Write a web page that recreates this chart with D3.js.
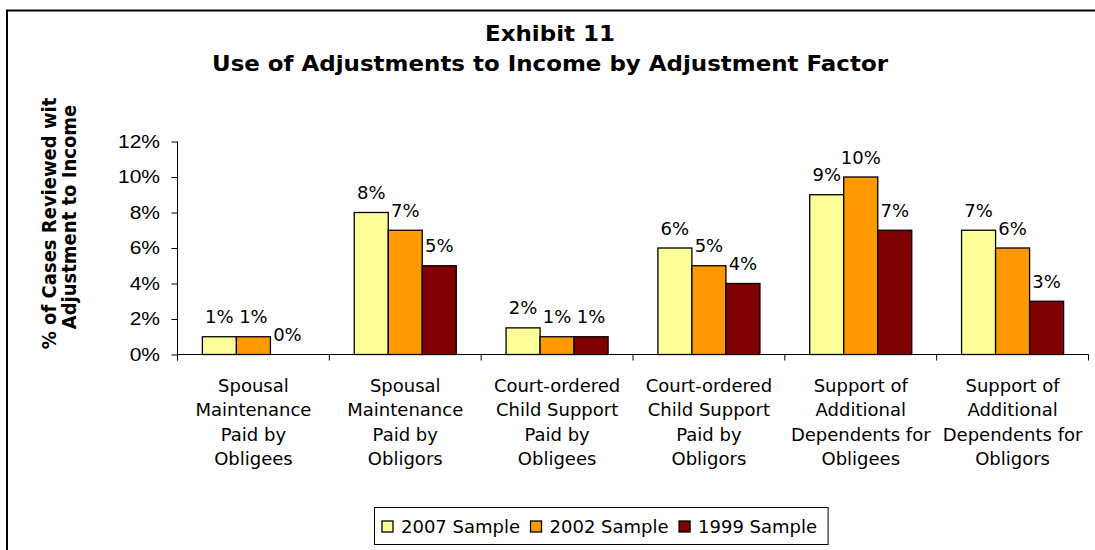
<!DOCTYPE html>
<html>
<head>
<meta charset="utf-8">
<script src="https://cdn.jsdelivr.net/npm/d3@7"></script>
<style>
  html, body { margin: 0; padding: 0; background: #fff; }
  svg { display: block; }
  text { fill: #000; }
</style>
</head>
<body>
<svg id="chart" width="1095" height="550"></svg>
<script>
// Adjustment factors (each label split into its wrapped lines)
const categories = [
  ["Spousal", "Maintenance", "Paid by", "Obligees"],
  ["Spousal", "Maintenance", "Paid by", "Obligors"],
  ["Court-ordered", "Child Support", "Paid by", "Obligees"],
  ["Court-ordered", "Child Support", "Paid by", "Obligors"],
  ["Support of", "Additional", "Dependents for", "Obligees"],
  ["Support of", "Additional", "Dependents for", "Obligors"]
];

// Share of reviewed cases (%) per sample year
const seriesNames = ["2007 Sample", "2002 Sample", "1999 Sample"];
const sample2007 = [1, 8, 1.5, 6, 9, 7];
const sample2002 = [1, 7, 1, 5, 10, 6];
const sample1999 = [0, 5, 1, 4, 7, 3];
const seriesValues = [sample2007, sample2002, sample1999];
const seriesColors = ["#FFFF99", "#FF9900", "#800000"];

const yTicks = [0, 2, 4, 6, 8, 10, 12];

const titleLines = ["Exhibit 11", "Use of Adjustments to Income by Adjustment Factor"];
const yTitleLines = ["% of Cases Reviewed with", "Adjustment to Income"];

const svg = d3.select("#chart");
const FONT = "'DejaVu Sans', Verdana, sans-serif";

// outer chart frame
svg.append("rect")
  .attr("x", 7).attr("y", 10.5)
  .attr("width", 1200).attr("height", 700)
  .attr("fill", "#fff").attr("stroke", "#000").attr("stroke-width", 2);

// scales
const catIdx = d3.range(categories.length);
const x = d3.scaleBand().domain(catIdx).range([177.5, 1088.5]);
const xInner = d3.scaleBand().domain(seriesNames)
  .range([0, x.bandwidth()]).paddingInner(0).paddingOuter(0.732);
const y = d3.scaleLinear().domain([0, 12]).range([354.5, 141.5]);

// titles
const title = svg.append("g")
  .attr("font-family", FONT).attr("font-weight", "bold").attr("font-size", 20.5)
  .attr("text-anchor", "middle");
const titleWidths = [130, 676];
const titleBase = [41, 71];
titleLines.forEach((t, i) => {
  title.append("text")
    .attr("x", 550).attr("y", titleBase[i])
    .attr("textLength", titleWidths[i]).attr("lengthAdjust", "spacingAndGlyphs")
    .text(t);
});

// y-axis title, clipped at the top of its box
svg.append("clipPath").attr("id", "ytitle-clip")
  .append("rect").attr("x", 0).attr("y", 97).attr("width", 120).attr("height", 300);
const yTitle = svg.append("g").attr("clip-path", "url(#ytitle-clip)")
  .attr("font-family", FONT).attr("font-weight", "bold").attr("font-size", 18)
  .attr("text-anchor", "middle");
const yTitleX = [56, 76];
yTitleLines.forEach((t, i) => {
  yTitle.append("text")
    .attr("transform", `translate(${yTitleX[i]},217) rotate(-90) scale(1,1.12)`)
    .text(t);
});

// y axis
const yAxis = svg.append("g")
  .attr("transform", `translate(${x.range()[0]},0)`)
  .call(d3.axisLeft(y).tickValues(yTicks).tickFormat(d => d + "%")
    .tickSize(6).tickPadding(11.5));
yAxis.select(".domain").remove();
yAxis.selectAll(".tick line").attr("stroke", "#000");
yAxis.selectAll(".tick text")
  .attr("font-family", "'Liberation Sans', Arial, sans-serif")
  .attr("font-size", 17.5)
  .attr("fill", "#000")
  .each(function () {
    const w = this.getComputedTextLength();
    d3.select(this).attr("textLength", w * 1.2).attr("lengthAdjust", "spacingAndGlyphs");
  });
svg.append("line")
  .attr("x1", x.range()[0]).attr("x2", x.range()[0])
  .attr("y1", y(12)).attr("y2", y(0) + 6)
  .attr("stroke", "#000");

// x axis line with ticks at category boundaries
svg.append("line")
  .attr("x1", x.range()[0]).attr("x2", x.range()[1])
  .attr("y1", y(0)).attr("y2", y(0))
  .attr("stroke", "#000");
const boundaries = catIdx.map(i => x(i)).concat([x.range()[1]]);
svg.append("g").selectAll("line").data(boundaries).join("line")
  .attr("x1", d => d).attr("x2", d => d)
  .attr("y1", y(0)).attr("y2", y(0) + 6)
  .attr("stroke", "#000");

// bars
const bars = seriesNames.flatMap((s, si) =>
  seriesValues[si].map((v, ci) => ({ s, si, ci, v })));
const plot = svg.append("g");
plot.selectAll("rect.bar").data(bars).join("rect")
  .attr("class", "bar")
  .attr("x", d => x(d.ci) + xInner(d.s))
  .attr("y", d => y(d.v))
  .attr("width", xInner.bandwidth())
  .attr("height", d => y(0) - y(d.v))
  .attr("fill", d => seriesColors[d.si])
  .attr("stroke", "#000").attr("stroke-width", 1.3);

// value labels
plot.selectAll("text.val").data(bars).join("text")
  .attr("class", "val")
  .attr("x", d => x(d.ci) + xInner(d.s) + xInner.bandwidth() / 2)
  .attr("y", d => y(d.v) - 13.5)
  .attr("text-anchor", "middle")
  .attr("font-family", FONT).attr("font-size", 18)
  .text(d => Math.round(d.v) + "%");

// category labels
const catG = svg.append("g")
  .attr("font-family", FONT).attr("font-size", 18).attr("text-anchor", "middle");
categories.forEach((lines, ci) => {
  const t = catG.append("text")
    .attr("x", x(ci) + x.bandwidth() / 2).attr("y", 392);
  lines.forEach((ln, li) => {
    t.append("tspan")
      .attr("x", x(ci) + x.bandwidth() / 2)
      .attr("dy", li === 0 ? 0 : 24.3)
      .text(ln);
  });
});

// legend
const legend = svg.append("g").attr("font-family", FONT).attr("font-size", 18);
const legBox = legend.append("rect")
  .attr("x", 374.5).attr("y", 507.5).attr("height", 37)
  .attr("fill", "#fff").attr("stroke", "#000").attr("stroke-width", 1);
let lx = 382;
seriesNames.forEach((s, i) => {
  legend.append("rect")
    .attr("x", lx).attr("y", 521)
    .attr("width", 11).attr("height", 11)
    .attr("fill", seriesColors[i]).attr("stroke", "#000").attr("stroke-width", 1.3);
  const t = legend.append("text").attr("x", lx + 19).attr("y", 533).text(s);
  lx += 19 + t.node().getComputedTextLength() + 10.5;
});
legBox.attr("width", lx - 10.5 + 11 - 374.5);
</script>
</body>
</html>
